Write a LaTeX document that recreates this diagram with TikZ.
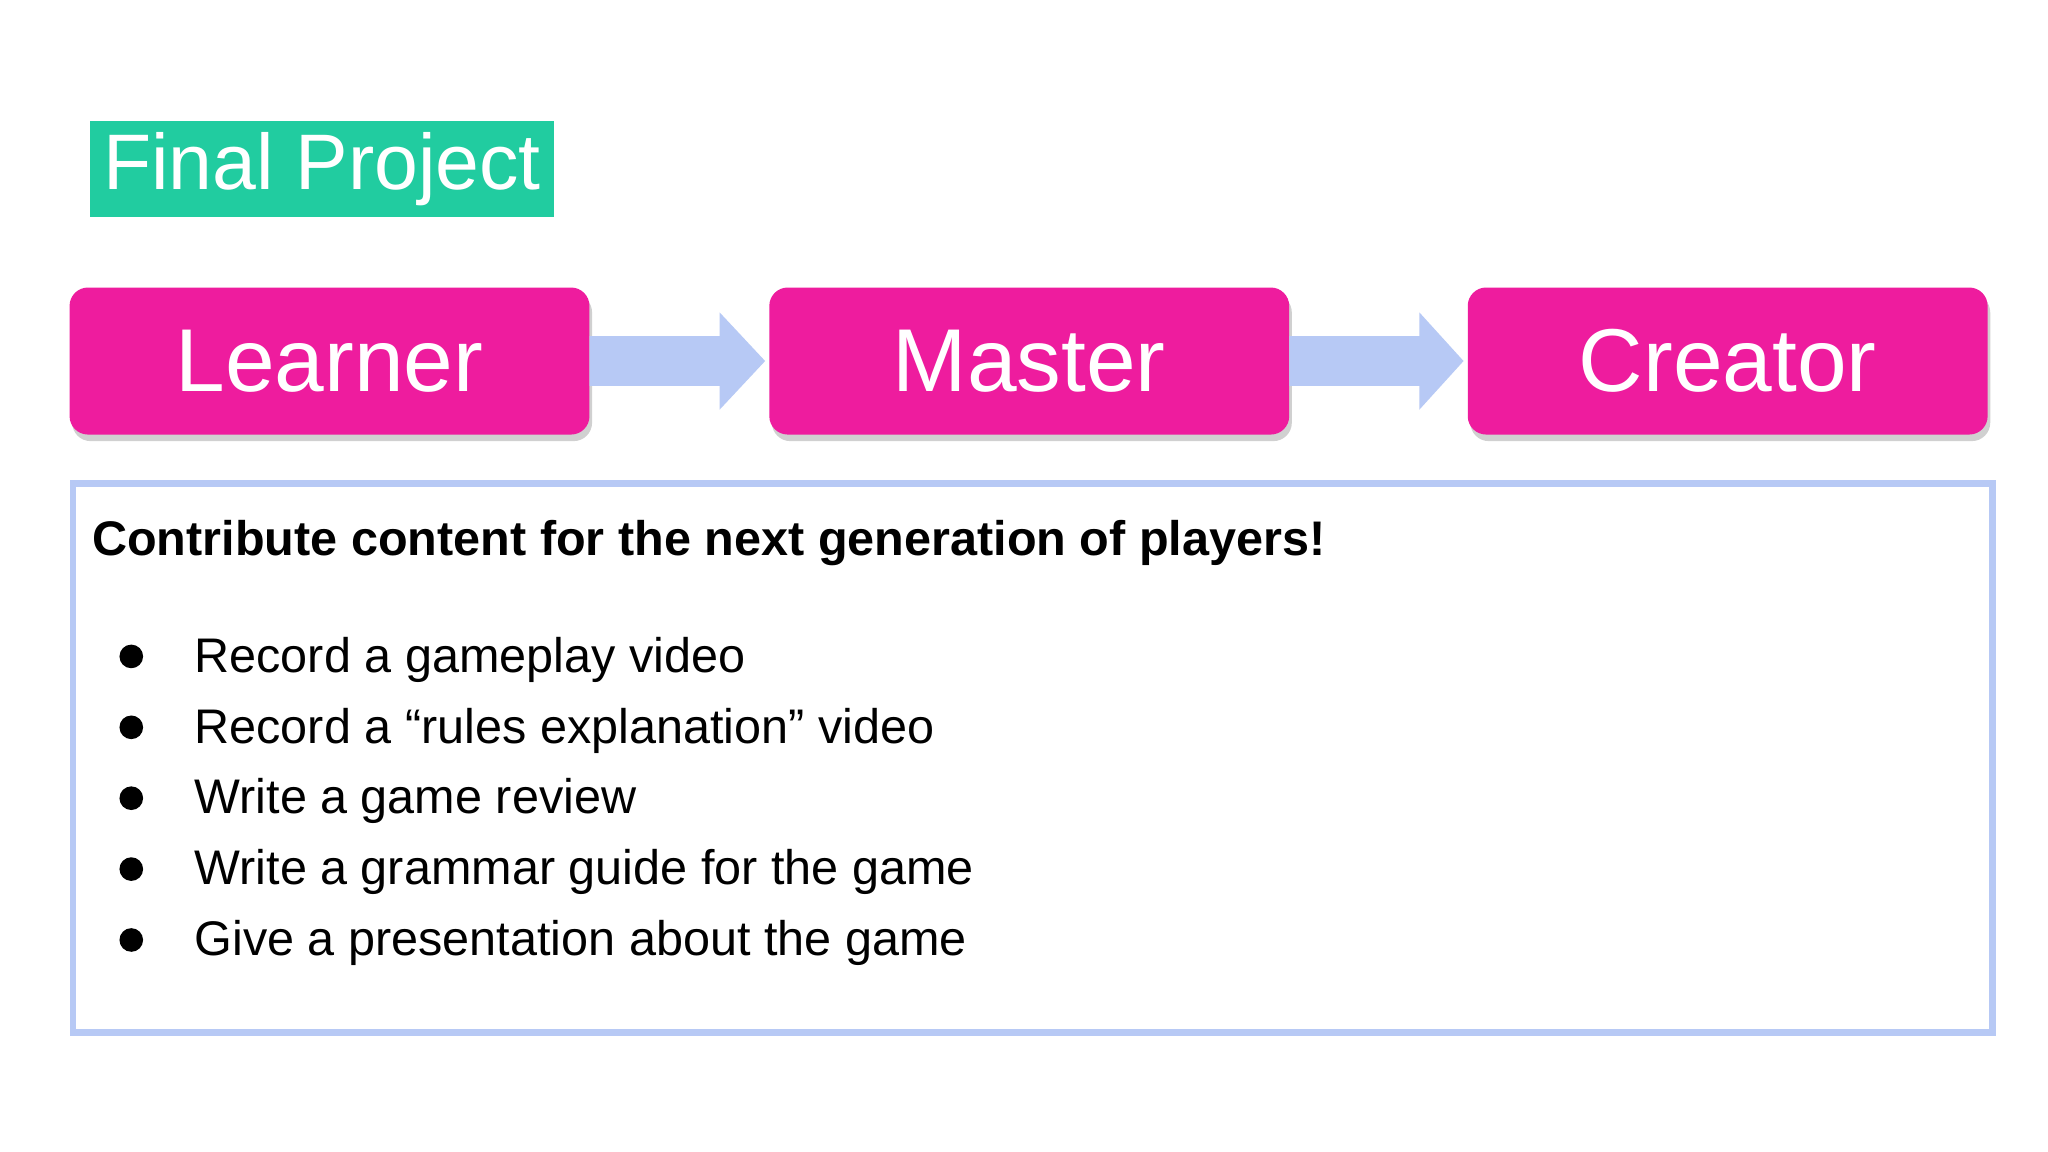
\documentclass[tikz,border=0pt]{standalone}
\usepackage{fontspec}
\setmainfont{Liberation Sans}
\usetikzlibrary{calc,shadows}
\definecolor{teal1}{HTML}{21CCA0}
\definecolor{mag}{HTML}{EE1C9E}
\definecolor{lb}{HTML}{B7C9F5}
\begin{document}
\begin{tikzpicture}[x=1pt,y=-1pt,
  stage/.style={fill=mag,rounded corners=14pt,minimum width=396pt,minimum height=112pt,text=white,font=\fontsize{68}{70}\selectfont,inner sep=0pt,drop shadow={shadow xshift=2pt,shadow yshift=-5pt,opacity=0.3,fill=black!60}},
  item/.style={anchor=base west,font=\fontsize{37}{40}\selectfont,inner sep=0pt}]
\useasboundingbox (0,0) rectangle (1560,877.5);
\fill[white] (0,0) rectangle (1560,877.5);
\node[fill=teal1,text=white,anchor=north west,minimum width=354pt,minimum height=73pt,inner sep=0pt,font=\fontsize{60}{62}\selectfont] (T) at (68,92) {Final Project};
\node[stage] (L) at (251,275) {Learner};
\node[stage] (M) at (784,275) {Master};
\node[stage] (C) at (1316,275) {Creator};
\foreach \a/\b in {L/M,M/C}{
  \fill[lb] ($(\a.east)+(0,-19)$) -- ++(99,0) -- ++(0,-18) -- ($(\b.west)+(-3,0)$) -- ($(\a.east)+(99,37)$) -- ++(0,-18) -- ($(\a.east)+(0,19)$) -- cycle;
}
\node[draw=lb,line width=5pt,anchor=north west,minimum width=1462pt,minimum height=418pt,inner sep=0pt] (B) at (53,366) {};
\node[anchor=base west,inner sep=0pt,font=\bfseries\fontsize{37}{40}\selectfont] (H) at (70,423) {Contribute content for the next generation of players!};
\foreach \t [count=\i] in {Record a gameplay video,Record a “rules explanation” video,Write a game review,Write a grammar guide for the game,Give a presentation about the game}{
  \fill (100,{512+54*(\i-1)-12}) circle (9pt);
  \node[item] (I\i) at (148,{512+54*(\i-1)}) {\t};
}
\end{tikzpicture}
\end{document}
